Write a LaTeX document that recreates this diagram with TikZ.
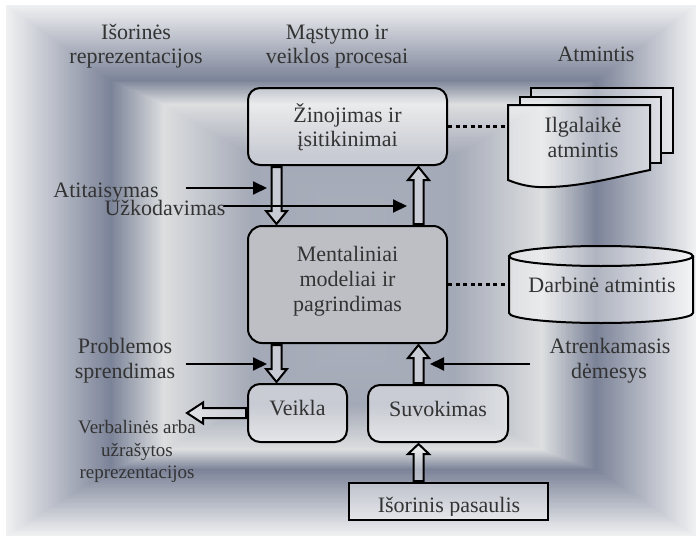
\documentclass[tikz,border=0pt]{standalone}
\usepackage{fontspec}
\setmainfont{Liberation Serif}
\usetikzlibrary{calc,arrows.meta}

\definecolor{bgA}{HTML}{EFF0F1}
\definecolor{bgB}{HTML}{7B8398}
\definecolor{bgC}{HTML}{DCDEDF}
\definecolor{bgD}{HTML}{A4A9B7}
\definecolor{bgE}{HTML}{A9AEBB}
\definecolor{ink}{HTML}{333333}
\definecolor{mentgray}{HTML}{BEBFC5}

\tikzset{
  lbl/.style={font=\fontsize{22}{25}\selectfont, text=ink, inner sep=0pt, anchor=base},
  lblsmall/.style={lbl, font=\fontsize{19}{22}\selectfont},
  pale/.style={fill=white, fill opacity=0.4},
  outline/.style={draw=black, line width=2pt},
  procbox/.style={outline, pale, rounded corners=12pt, inner sep=0pt},
  mentbox/.style={outline, fill=mentgray, rounded corners=14pt, inner sep=0pt},
  worldbox/.style={outline, pale, inner sep=0pt},
  hollow/.style={outline, pale, line join=miter},
  feed/.style={line width=2pt, -{Triangle[length=14pt,width=13pt]}},
  memlink/.style={line width=3.5pt, dash pattern=on 4pt off 3.5pt},
}

% hollow block arrow from #2 to #3, head length #1
\newcommand\hollowarrow[3][13]{%
  \coordinate (ha-base) at ($(#3)!#1pt!(#2)$);
  \draw[hollow] ($(#2)!5pt!90:(#3)$) -- ($(ha-base)!5pt!90:(#3)$)
    -- ($(ha-base)!10.5pt!90:(#3)$) -- (#3)
    -- ($(ha-base)!10.5pt!-90:(#3)$) -- ($(ha-base)!5pt!-90:(#3)$)
    -- ($(#2)!5pt!-90:(#3)$) -- cycle;}

\begin{document}
\begin{tikzpicture}[x=1pt,y=-1pt]
\useasboundingbox (0,0) rectangle (696,538);
\fill[white] (0,0) rectangle (696,538);

% framed background: nested rectangles, insets L/R/T/B and colour per band
\foreach \sL/\sR/\sT/\sB/\eL/\eR/\eT/\eB/\sC/\eC/\nN in {
    0/0/0/0/104/99/75/66/bgA/bgB/52,
    104/99/75/66/157/153/99/86/bgB/bgC/30,
    157/153/99/86/245/240/150/130/bgC/bgD/40,
    245/240/150/130/335/335/205/185/bgD/bgE/30} {
  \foreach \j in {0,...,\nN} {
    \pgfmathsetmacro\bandt{\j/\nN}
    \pgfmathsetmacro\bandL{\sL+(\eL-\sL)*\bandt}
    \pgfmathsetmacro\bandR{\sR+(\eR-\sR)*\bandt}
    \pgfmathsetmacro\bandT{\sT+(\eT-\sT)*\bandt}
    \pgfmathsetmacro\bandB{\sB+(\eB-\sB)*\bandt}
    \pgfmathtruncatemacro\bandp{round(100*\bandt)}
    \colorlet{bandcol}{\eC!\bandp!\sC}
    \fill[bandcol] ({6+\bandL},{5+\bandT}) rectangle ({696-\bandR},{536-\bandB});
  }
}

% column headings
\node[lbl] (h-ext1) at (136,39) {Išorinės};
\node[lbl] (h-ext2) at (136,63) {reprezentacijos};
\node[lbl] (h-proc1) at (337,39) {Mąstymo ir};
\node[lbl] (h-proc2) at (337,63) {veiklos procesai};
\node[lbl] (h-mem) at (596,61) {Atmintis};

% process boxes
\node[procbox, minimum width=199pt, minimum height=77pt] (zin) at (347.5,126.5) {};
\node[mentbox, minimum width=199pt, minimum height=117pt] (ment) at (347.5,284.5) {};
\node[procbox, minimum width=99pt, minimum height=58pt] (veik) at (297.5,413) {};
\node[procbox, minimum width=140pt, minimum height=57pt] (suvo) at (438,413.5) {};
\node[worldbox, minimum width=199pt, minimum height=37pt] (pas) at (448.5,501.5) {};

\node[lbl] (t-zin1) at (347.5,122) {Žinojimas ir};
\node[lbl] (t-zin2) at (347.5,146) {įsitikinimai};
\node[lbl] (t-ment1) at (347.5,261) {Mentaliniai};
\node[lbl] (t-ment2) at (347.5,286) {modeliai ir};
\node[lbl] (t-ment3) at (347.5,311) {pagrindimas};
\node[lbl] (t-veik) at (297.5,415) {Veikla};
\node[lbl] (t-suvo) at (438,416) {Suvokimas};
\begin{scope}
  \clip (pas.north west) rectangle ($(pas.south east)+(0,-5.5)$);
  \node[lbl] (t-pas) at (449,512) {Išorinis pasaulis};
\end{scope}

% long-term memory: stacked documents
\coordinate (ltm) at (508,126.5);
\fill[pale] (531,88) -- (673,88) -- (673,153) -- (531,153) -- cycle
  (520,97) -- (661,97) -- (661,163) -- (520,163) -- cycle
  (508,105) -- (650,105) -- (650,170)
    .. controls (620,176) and (585,186) .. (550,187)
    .. controls (530,188) and (518,184) .. (508,180) -- cycle;
\draw[outline] (531,97) -- (531,88) -- (673,88) -- (673,153) -- (661,153);
\draw[outline] (520,105) -- (520,97) -- (661,97) -- (661,163) -- (650,163);
\draw[outline] (508,105) -- (650,105) -- (650,170)
    .. controls (620,176) and (585,186) .. (550,187)
    .. controls (530,188) and (518,184) .. (508,180) -- cycle;
\node[lbl] (t-ltm1) at (583,132) {Ilgalaikė};
\node[lbl] (t-ltm2) at (583,157) {atmintis};

% working memory: cylinder
\coordinate (wm) at (509,284.5);
\fill[pale] (509,256) -- (509,313)
  arc[start angle=180, end angle=360, x radius=92pt, y radius=10pt]
  -- (693,256)
  arc[start angle=0, end angle=180, x radius=92pt, y radius=10pt] -- cycle;
\draw[outline] (509,256) -- (509,313)
  arc[start angle=180, end angle=360, x radius=92pt, y radius=10pt] -- (693,256);
\draw[outline] (601,256) ellipse[x radius=92pt, y radius=10pt];
\node[lbl] (t-wm) at (602,292) {Darbinė atmintis};

% memory links
\draw[memlink] (zin.east) -- (ltm);
\draw[memlink] (ment.east) -- (wm);

% block arrows between the stages
\coordinate (a1s) at ($(zin.south west)+(29.5,1)$);
\coordinate (a1e) at ($(ment.north west)+(29.5,-1)$);
\coordinate (a2s) at ($(ment.north east)+(-29.5,-1)$);
\coordinate (a2e) at ($(zin.south east)+(-29.5,1)$);
\coordinate (a3s) at ($(ment.south west)+(29.5,1)$);
\coordinate (a3e) at ($(veik.north west)+(29.5,-1)$);
\coordinate (a4e) at ($(ment.south east)+(-29.5,1)$);
\coordinate (a4s) at ($(a4e |- suvo.north)+(0,-1)$);
\coordinate (a5e) at ($(a4e |- suvo.south)+(0,1)$);
\coordinate (a5s) at ($(a4e |- pas.north)+(0,-1)$);
\coordinate (a6s) at ($(veik.west)+(-1,0)$);
\coordinate (a6e) at (187,413);
\hollowarrow{a1s}{a1e}
\hollowarrow{a2s}{a2e}
\hollowarrow{a3s}{a3e}
\hollowarrow{a4s}{a4e}
\hollowarrow[10]{a5s}{a5e}
\hollowarrow[16]{a6s}{a6e}

% side influences
\coordinate (f1s) at (186,188);
\coordinate (f1e) at (267,188);
\coordinate (f2s) at (223,206);
\coordinate (f2e) at (407,206);
\coordinate (f3s) at (186,364);
\coordinate (f3e) at (267,364);
\coordinate (f4s) at (530,364);
\coordinate (f4e) at (430,364);
\draw[feed] (f1s) -- (f1e);
\draw[feed] (f2s) -- (f2e);
\draw[feed] (f3s) -- (f3e);
\draw[feed] (f4s) -- (f4e);

\node[lbl] (t-atit) at (106,197) {Atitaisymas};
\begin{scope}
  \clip (90,190) rectangle (240,215.5);
  \node[lbl] (t-ukod) at (165,215) {Užkodavimas};
\end{scope}
\node[lbl] (t-prob1) at (125,353) {Problemos};
\node[lbl] (t-prob2) at (125,378) {sprendimas};
\node[lbl] (t-atr1) at (610,353) {Atrenkamasis};
\node[lbl] (t-atr2) at (609,378) {dėmesys};
\node[lblsmall] (t-verb1) at (137,433) {Verbalinės arba};
\node[lblsmall] (t-verb2) at (137,456) {užrašytos};
\node[lblsmall] (t-verb3) at (137,478) {reprezentacijos};
\end{tikzpicture}
\end{document}
